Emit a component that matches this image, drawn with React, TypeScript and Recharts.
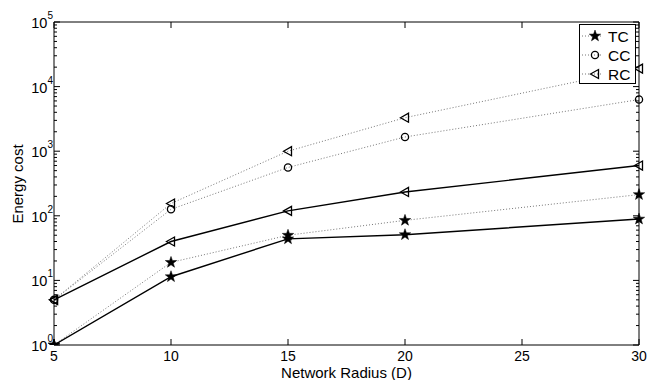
import React from 'react';
import { LineChart, Line, XAxis, YAxis, Label } from 'recharts';

const radius = [5, 10, 15, 20, 30];
const tcSolid = [1, 11.4, 44, 51, 89];
const rcSolid = [5, 40, 119, 234, 600];
const tcDotted = [1, 19, 50, 85, 213];
const ccDotted = [5, 126, 560, 1660, 6300];
const rcDotted = [5, 155, 1000, 3300, 19000];

const xTicks = [5, 10, 15, 20, 25, 30];
const decades = [0, 1, 2, 3, 4];
const yTicks = [...decades.flatMap((d) => [1, 2, 3, 4, 5, 6, 7, 8, 9].map((m) => m * Math.pow(10, d))), 100000];

const legendItems = [
  { name: 'TC', marker: 'star' },
  { name: 'CC', marker: 'circle' },
  { name: 'RC', marker: 'tri' },
];

const data = radius.map((r, i) => ({
  r,
  tcSolid: tcSolid[i],
  rcSolid: rcSolid[i],
  tc: tcDotted[i],
  cc: ccDotted[i],
  rc: rcDotted[i],
}));

const font = 'Liberation Sans, Arial, Helvetica, sans-serif';
const DOT_COLOR = '#777';

function Marker({ kind, cx, cy }: { kind: string; cx: number; cy: number }) {
  if (kind === 'star') {
    const pts: string[] = [];
    for (let i = 0; i < 10; i++) {
      const rad = i % 2 === 0 ? 6 : 2.4;
      const a = -Math.PI / 2 + (i * Math.PI) / 5;
      pts.push(`${cx + rad * Math.cos(a)},${cy + rad * Math.sin(a)}`);
    }
    return <polygon points={pts.join(' ')} fill="#000" stroke="#000" strokeWidth={0.5} />;
  }
  if (kind === 'circle') {
    return <circle cx={cx} cy={cy} r={3.6} fill="none" stroke="#000" strokeWidth={1.3} />;
  }
  return (
    <polygon
      points={`${cx - 4.5},${cy} ${cx + 3.5},${cy - 4.5} ${cx + 3.5},${cy + 4.5}`}
      fill="none"
      stroke="#000"
      strokeWidth={1.3}
    />
  );
}

const dotOf = (kind: string) => (p: any) => <Marker key={`${kind}-${p.index}-${p.dataKey}`} kind={kind} cx={p.cx} cy={p.cy} />;

const isMajor = (v: number) => {
  const e = Math.round(Math.log10(v));
  return Math.abs(Math.pow(10, e) - v) < 1e-6 * v;
};

// log axis: long tick + 10^k label on decades, short ticks otherwise
const LeftTick = (props: any) => {
  const { x, y, payload } = props;
  const v = payload.value;
  const major = isMajor(v);
  const e = Math.round(Math.log10(v));
  return (
    <g>
      <line x1={x} y1={y} x2={x + (major ? 6 : 3)} y2={y} stroke="#000" />
      {major && (
        <text x={x - 1} y={y + 6} textAnchor="end" fontSize={14.5} fontFamily={font} fill="#000">
          10<tspan dy={-9} fontSize={10}>{e}</tspan>
        </text>
      )}
    </g>
  );
};

const RightTick = (props: any) => {
  const { x, y, payload } = props;
  const major = isMajor(payload.value);
  return <line x1={x} y1={y} x2={x - (major ? 6 : 3)} y2={y} stroke="#000" />;
};

const BottomTick = (props: any) => {
  const { x, y, payload } = props;
  return (
    <g>
      <line x1={x} y1={y} x2={x} y2={y - 6} stroke="#000" />
      <text x={x} y={y + 16} textAnchor="middle" fontSize={14} fontFamily={font} fill="#000">
        {payload.value}
      </text>
    </g>
  );
};

const TopTick = (props: any) => {
  const { x, y } = props;
  return <line x1={x} y1={y} x2={x} y2={y + 6} stroke="#000" />;
};

function LegendBox() {
  return (
    <svg width={58} height={61} style={{ position: 'absolute', left: 579, top: 24, display: 'block' }}>
      <rect x={0.5} y={0.5} width={56} height={59} fill="#fff" stroke="#000" strokeWidth={1} />
      {legendItems.map((it, i) => {
        const cy = 12 + i * 19;
        return (
          <g key={it.name}>
            <line x1={3} y1={cy} x2={24} y2={cy} stroke={DOT_COLOR} strokeDasharray="1 2" />
            <Marker kind={it.marker} cx={16} cy={cy} />
            <text x={29} y={cy + 6} fontSize={15.5} fontFamily={font} fill="#000">
              {it.name}
            </text>
          </g>
        );
      })}
    </svg>
  );
}

export default function App() {
  return (
    <div style={{ position: 'absolute', left: 0, top: 0, width: 647, height: 380, background: '#fff' }}>
      <LineChart width={647} height={380} data={data} margin={{ top: 21, right: 7, bottom: 0, left: 0 }}>
        <XAxis
          xAxisId="b"
          dataKey="r"
          type="number"
          domain={[5, 30]}
          ticks={xTicks}
          interval={0}
          height={35}
          tickSize={0}
          tickMargin={0}
          tickLine={false}
          axisLine={{ stroke: '#000' }}
          tick={<BottomTick />}
        >
          <Label
            content={(p: any) => (
              <text
                x={p.viewBox.x + p.viewBox.width / 2}
                y={p.viewBox.y + 32.5}
                textAnchor="middle"
                fontSize={15}
                fontFamily={font}
                fill="#000"
              >
                Network Radius (D)
              </text>
            )}
          />
        </XAxis>
        <XAxis
          xAxisId="t"
          orientation="top"
          dataKey="r"
          type="number"
          domain={[5, 30]}
          ticks={xTicks}
          interval={0}
          height={1}
          tickSize={0}
          tickMargin={0}
          tickLine={false}
          axisLine={{ stroke: '#000' }}
          tick={<TopTick />}
        />
        <YAxis
          yAxisId="l"
          scale="log"
          domain={[1, 100000]}
          ticks={yTicks}
          interval={0}
          allowDataOverflow
          width={54}
          tickSize={0}
          tickMargin={0}
          tickLine={false}
          axisLine={{ stroke: '#000' }}
          tick={<LeftTick />}
        >
          <Label
            content={() => (
              <text
                x={23}
                y={184}
                transform="rotate(-90 23 184)"
                textAnchor="middle"
                fontSize={15}
                fontFamily={font}
                fill="#000"
              >
                Energy cost
              </text>
            )}
          />
        </YAxis>
        <YAxis
          yAxisId="r"
          orientation="right"
          scale="log"
          domain={[1, 100000]}
          ticks={yTicks}
          interval={0}
          allowDataOverflow
          width={1}
          tickSize={0}
          tickMargin={0}
          tickLine={false}
          axisLine={{ stroke: '#000' }}
          tick={<RightTick />}
        />
        <Line xAxisId="b" yAxisId="l" dataKey="tc" stroke={DOT_COLOR} strokeDasharray="1 2" strokeWidth={1} dot={dotOf('star')} isAnimationActive={false} />
        <Line xAxisId="b" yAxisId="l" dataKey="cc" stroke={DOT_COLOR} strokeDasharray="1 2" strokeWidth={1} dot={dotOf('circle')} isAnimationActive={false} />
        <Line xAxisId="b" yAxisId="l" dataKey="rc" stroke={DOT_COLOR} strokeDasharray="1 2" strokeWidth={1} dot={dotOf('tri')} isAnimationActive={false} />
        <Line xAxisId="b" yAxisId="l" dataKey="tcSolid" stroke="#000" strokeWidth={1.4} dot={dotOf('star')} isAnimationActive={false} />
        <Line xAxisId="b" yAxisId="l" dataKey="rcSolid" stroke="#000" strokeWidth={1.4} dot={dotOf('tri')} isAnimationActive={false} />
      </LineChart>
      <LegendBox />
    </div>
  );
}
